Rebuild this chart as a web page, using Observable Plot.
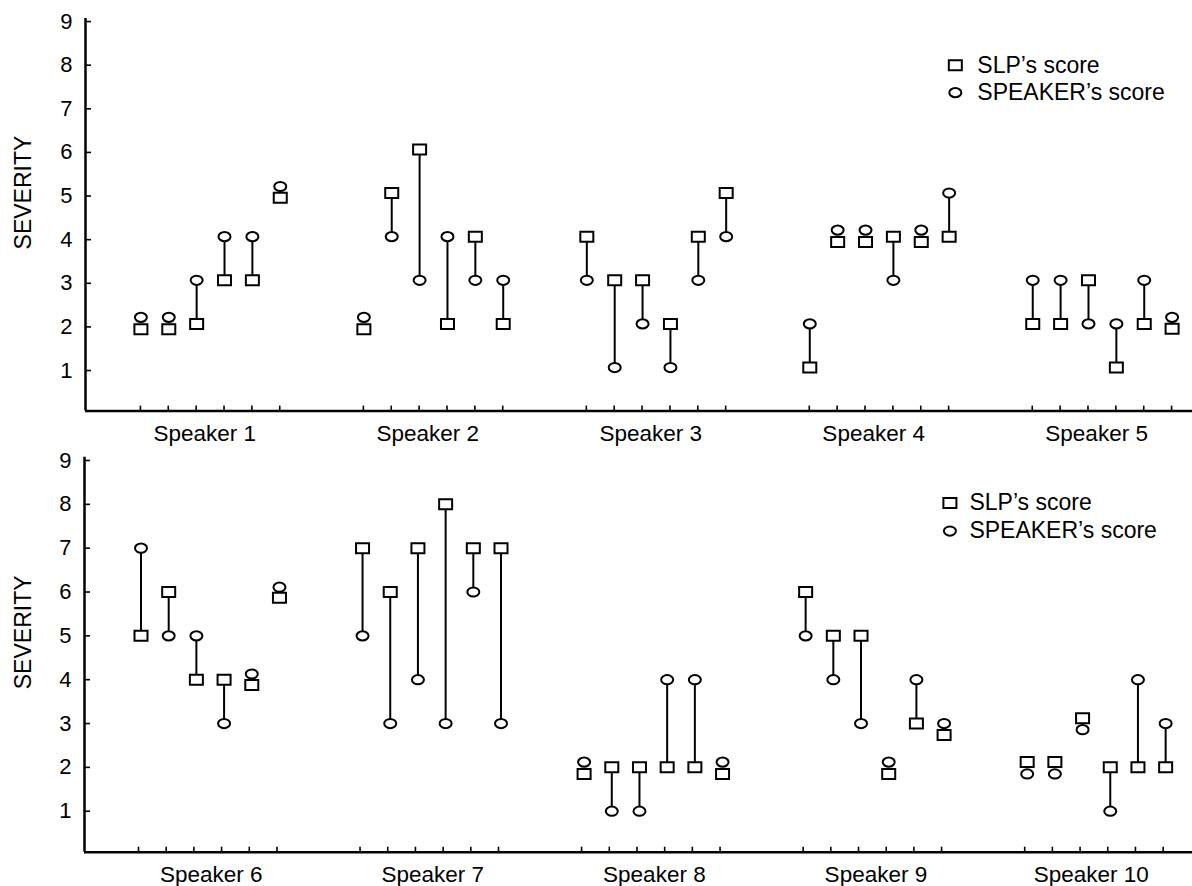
<!DOCTYPE html>
<html>
<head>
<meta charset="utf-8">
<script src="https://cdn.jsdelivr.net/npm/d3@7"></script>
<script src="https://cdn.jsdelivr.net/npm/@observablehq/plot@0.6"></script>
<style>
  body { margin: 0; background: #fff; }
  #chart { width: 1192px; height: 886px; font-family: "Liberation Sans", Arial, Helvetica, sans-serif; }
  #chart svg { display: block; }
</style>
</head>
<body>
<div id="chart"></div>
<script>
// ---------- data ----------
const speakersTop = ["Speaker 1", "Speaker 2", "Speaker 3", "Speaker 4", "Speaker 5"];
const speakersBottom = ["Speaker 6", "Speaker 7", "Speaker 8", "Speaker 9", "Speaker 10"];

// SLP's score per speaker (6 items each); equal scores are drawn slightly apart, as in the original
const slpTop = [
  [1.88, 1.88, 2, 3, 3, 4.89],
  [1.88, 5, 6, 2, 4, 2],
  [4, 3, 3, 2, 4, 5],
  [1, 3.88, 3.88, 4, 3.88, 4],
  [2, 2, 3, 1, 2, 1.89]
];
// SPEAKER's score
const speakerTop = [
  [2.15, 2.15, 3, 4, 4, 5.15],
  [2.15, 4, 3, 4, 3, 3],
  [3, 1, 2, 1, 3, 4],
  [2, 4.15, 4.15, 3, 4.15, 5],
  [3, 3, 2, 2, 3, 2.15]
];
const slpBottom = [
  [5, 6, 4, 4, 3.88, 5.87],
  [7, 6, 7, 8, 7, 7],
  [1.85, 2, 2, 2, 2, 1.85],
  [6, 5, 5, 1.85, 3, 2.74],
  [2.12, 2.12, 3.12, 2, 2, 2]
];
const speakerBottom = [
  [7, 5, 5, 3, 4.13, 6.11],
  [5, 3, 4, 3, 6, 3],
  [2.12, 1, 1, 4, 4, 2.12],
  [5, 4, 3, 2.12, 4, 3],
  [1.85, 1.85, 2.86, 1, 4, 3]
];
const yTicks = [1, 2, 3, 4, 5, 6, 7, 8, 9];
const yLabel = "SEVERITY";
const legendLabels = ["SLP’s score", "SPEAKER’s score"];
const groupStep = 8; // slots per speaker group on the x axis

// ---------- symbols ----------
const rectSymbol = {
  draw(ctx) {
    const w = 6.5, h = 5;
    ctx.moveTo(-w, -h); ctx.lineTo(w, -h); ctx.lineTo(w, h); ctx.lineTo(-w, h); ctx.closePath();
  }
};
const ellipseSymbol = {
  draw(ctx) {
    const rx = 6, ry = 4.6, k = 0.5523;
    ctx.moveTo(rx, 0);
    ctx.bezierCurveTo(rx, ry * k, rx * k, ry, 0, ry);
    ctx.bezierCurveTo(-rx * k, ry, -rx, ry * k, -rx, 0);
    ctx.bezierCurveTo(-rx, -ry * k, -rx * k, -ry, 0, -ry);
    ctx.bezierCurveTo(rx * k, -ry, rx, -ry * k, rx, 0);
    ctx.closePath();
  }
};

function panel(cfg) {
  const {speakers, slp, spk, height, marginTop, marginBottom, marginLeft, xDomain, yDomain,
         markDx, markDy, labelEnd, legendX, legendY, legendDx, sevDx} = cfg;
  const rows = [];
  speakers.forEach((s, g) => slp[g].forEach((v, i) => rows.push({pos: g * groupStep + i, slp: v, spk: spk[g][i]})));
  const frameW = 1192 - marginLeft;
  const frameH = height - marginTop - marginBottom;
  const dotStyle = {fill: "white", stroke: "black", strokeWidth: 2, r: 6};
  return Plot.plot({
    width: 1192, height, marginLeft, marginRight: 0, marginTop, marginBottom,
    x: {domain: xDomain, axis: null},
    y: {domain: yDomain, axis: null},
    style: {fontFamily: '"Liberation Sans", Arial, Helvetica, sans-serif', fontSize: "22px", background: "white", color: "black", overflow: "visible"},
    marks: [
      Plot.ruleX([xDomain[0]], {stroke: "black", strokeWidth: 2.5}),
      Plot.ruleY([yDomain[0]], {stroke: "black", strokeWidth: 2.5}),
      Plot.tickY(yTicks, {y: d => d, insetRight: frameW - 6, stroke: "black", strokeWidth: 1.6}),
      Plot.tickX(rows, {x: "pos", insetTop: frameH - 5, stroke: "black", strokeWidth: 1.6}),
      Plot.axisY(yTicks, {tickSize: 0, tickPadding: 13, fontSize: 22, label: null, fill: "black"}),
      Plot.text([yLabel], {x: () => xDomain[0], y: () => (yTicks[0] + yTicks[yTicks.length - 1]) / 2,
        dx: sevDx, dy: -3.5, rotate: -90, fontSize: 23, textAnchor: "middle", lineAnchor: "middle", fill: "black"}),
      Plot.text(speakers, {x: (d, g) => g * groupStep + labelEnd, frameAnchor: "bottom", dy: 30,
        lineAnchor: "bottom", textAnchor: "end", fontSize: 22.5, fill: "black"}),
      Plot.ruleX(rows.filter(r => Math.abs(r.slp - r.spk) > 0.5),
        {x: "pos", y1: "slp", y2: "spk", stroke: "black", strokeWidth: 2, dx: markDx, dy: markDy}),
      Plot.dot(rows, {x: "pos", y: "slp", symbol: rectSymbol, dx: markDx, dy: markDy, ...dotStyle}),
      Plot.dot(rows, {x: "pos", y: "spk", symbol: ellipseSymbol, dx: markDx, dy: markDy, ...dotStyle}),
      // legend
      Plot.dot([legendLabels[0]], {x: () => legendX, y: () => legendY[0], symbol: rectSymbol, ...dotStyle}),
      Plot.dot([legendLabels[1]], {x: () => legendX, y: () => legendY[1], symbol: ellipseSymbol, ...dotStyle}),
      Plot.text(legendLabels, {x: () => legendX, y: (d, i) => legendY[i], dx: legendDx, textAnchor: "start",
        lineAnchor: "middle", fontSize: 23, fill: "black"})
    ]
  });
}

const chart = document.getElementById("chart");
chart.append(panel({
  speakers: speakersTop, slp: slpTop, spk: speakerTop,
  height: 450, marginTop: 18, marginBottom: 39.4, marginLeft: 85,
  xDomain: [-1.97, 37.75], yDomain: [0.07, 9.07],
  markDx: 0.5, markDy: -3, labelEnd: 4.15,
  legendX: 29.24, legendY: [8, 7.37], legendDx: 22, sevDx: -61.5
}));
chart.append(panel({
  speakers: speakersBottom, slp: slpBottom, spk: speakerBottom,
  height: 436, marginTop: 6.7, marginBottom: 34.3, marginLeft: 84,
  xDomain: [-1.95, 38.06], yDomain: [0.065, 9.075],
  markDx: 2.5, markDy: 0, labelEnd: 4.48,
  legendX: 29.3, legendY: [8.03, 7.39], legendDx: 19.5, sevDx: -60.5
}));
</script>
</body>
</html>
